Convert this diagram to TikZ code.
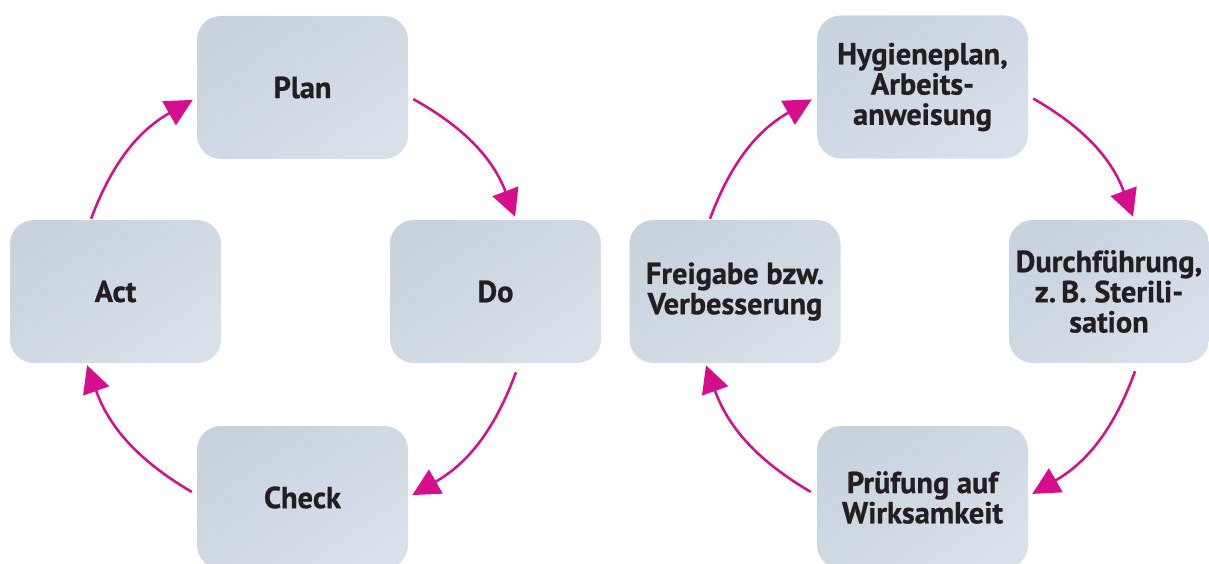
\documentclass[tikz,border=0pt]{standalone}
\usepackage{fontspec}
\setmainfont{PT Sans}[BoldFeatures={FakeBold=0.8}]
\usetikzlibrary{arrows.meta, positioning}

\definecolor{pink}{HTML}{D60E8C}
\definecolor{boxtop}{HTML}{C8D3DE}
\definecolor{boxbot}{HTML}{D8E0E9}
\definecolor{ink}{HTML}{231F20}

\begin{document}
\begin{tikzpicture}[auto, >={Triangle[length=0.68cm, width=0.68cm]}]
				\tikzstyle{box} = [draw=none, rounded corners=0.6cm, top color=boxtop, bottom color=boxbot, shading angle=35, minimum width=5.275cm, minimum height=3.575cm, align=center, text=ink, font=\fontsize{21.6}{21.5}\selectfont\bfseries]
				\tikzstyle{cyc} = [color=pink, line width=1.8pt, ->, bend left=20]
				
				\clip (0, 0) rectangle (30.225, 14.075);
				
				% PDCA
				\node[box] 	at (7.5625, 11.8875) 	(plan) 	{Plan};
				\node[box] 	at (12.3875, 6.7875)	(do) 	{Do};
				\node[box] 	at (7.5625, 1.6375) 	(check) 	{Check};
				\node[box] 	at (2.8875, 6.7875)		(act) 	{Act};
				
				% Hygiene
				\node[box] 	at (23.0625, 11.9) 	(hyg) 	{Hygieneplan,\\Arbeits-\\anweisung};
				\node[box, minimum width=5cm] 	at (27.725, 6.7875)	(durch) 	{Durchführung,\\z.\,B. Sterili-\\sation};
				\node[box] 	at (23.0625, 1.6375) 	(pruef) 	{Prüfung auf\\Wirksamkeit};
				\node[box] 	at (18.375, 6.7875)		(frei) 	{Freigabe bzw.\\Verbesserung};
				
				\path
				([xshift=0.125cm, yshift=-0.29cm]plan.east)	edge[cyc]	([xshift=0.49cm, yshift=0.075cm]do.north)
				([xshift=0.51cm, yshift=-0.225cm]do.south)	edge[cyc]	([xshift=0.1cm, yshift=0.06cm]check.east)
				([xshift=-0.125cm, yshift=0.14cm]check.west)	edge[cyc]	([xshift=-0.71cm, yshift=-0.05cm]act.south)
				([xshift=-0.61cm, yshift=0.025cm]act.north)	edge[cyc]	([xshift=-0.1cm, yshift=-0.31cm]plan.west);
				
				\path
				([xshift=0.125cm, yshift=-0.29cm]hyg.east)	edge[cyc]	([xshift=0.6cm, yshift=0.075cm]durch.north)
				([xshift=0.65cm, yshift=-0.2cm]durch.south)	edge[cyc]	([xshift=0.1cm, yshift=0.09cm]pruef.east)
				([xshift=-0.15cm, yshift=0.14cm]pruef.west)	edge[cyc]	([xshift=-0.725cm, yshift=-0.05cm]frei.south)
				([xshift=-0.625cm, yshift=0.025cm]frei.north)	edge[cyc]	([xshift=-0.125cm, yshift=-0.31cm]hyg.west);
\end{tikzpicture}
\end{document}
